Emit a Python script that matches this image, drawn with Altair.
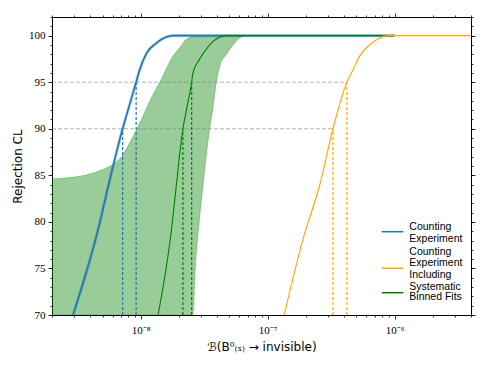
import altair as alt
import pandas as pd

# ---- data ----
series_labels = [["Counting", "Experiment"],
                 ["Counting", "Experiment", "Including", "Systematic"],
                 ["Binned Fits"]]
series_colors = ["#1f77b4", "#ffa500", "#008000"]

# Counting Experiment (blue)
blue_x = [2.93e-9, 4.6e-9, 5.7e-9, 7.2e-9, 7.94e-9, 9.2e-9, 9.8e-9, 1.11e-8, 1.33e-8, 1.59e-8, 1.85e-8, 1e-6]
blue_cl = [70, 79.1, 84.5, 90, 92, 95, 96.3, 98.1, 99.2, 99.85, 100, 100]

# Counting Experiment Including Systematic (orange)
orange_x = [1.35e-7, 1.86e-7, 2.60e-7, 3.27e-7, 4.21e-7, 4.70e-7, 5.30e-7, 6.35e-7, 7.62e-7, 8.85e-7, 4e-6]
orange_cl = [70, 77.7, 84.2, 90, 95, 96.3, 97.8, 99.0, 99.75, 100, 100]

# Binned Fits (green)
green_x = [1.37e-8, 1.745e-8, 1.89e-8, 2.15e-8, 2.29e-8, 2.52e-8, 2.58e-8, 2.83e-8, 3.19e-8, 3.60e-8, 4.06e-8, 4.73e-8, 1e-6]
green_cl = [70, 79.1, 83.4, 90, 92, 95, 96, 97.2, 98.3, 99.2, 99.75, 100, 100]

# Binned fits uncertainty band (upper and lower CL edge at each x)
band_x = [2e-9, 2.52e-9, 3.31e-9, 4.75e-9, 6.05e-9, 7.05e-9, 8.19e-9, 9.35e-9, 1.07e-8, 1.18e-8, 1.29e-8,
          1.41e-8, 1.55e-8, 1.69e-8, 1.85e-8, 2.03e-8, 2.29e-8, 2.58e-8, 2.69e-8, 2.89e-8, 3.13e-8,
          3.31e-8, 3.49e-8, 3.69e-8, 3.94e-8, 4.07e-8, 4.26e-8, 4.73e-8, 5.33e-8, 6.03e-8, 6.84e-8]
band_hi = [84.6, 84.7, 84.9, 85.5, 86.2, 87.0, 88.5, 90.0, 91.7, 93.0, 94.0,
           95.0, 96.1, 97.2, 98.05, 98.7, 99.6, 99.9, 99.95, 100, 100,
           100, 100, 100, 100, 100, 100, 100, 100, 100, 100]
band_lo = [70, 70, 70, 70, 70, 70, 70, 70, 70, 70, 70,
           70, 70, 70, 70, 70, 70, 70, 75, 80, 84.5,
           87.5, 90, 92, 95, 96, 97, 98, 99, 99.75, 100]

# limits at 90 % and 95 % CL
limit_cl = [90, 95]
blue_limits = [7.2e-9, 9.2e-9]
green_limits = [2.15e-8, 2.52e-8]
orange_limits = [3.27e-7, 4.21e-7]

x_domain = [2e-9, 4e-6]
y_domain = [70, 102]
x_major = [1e-8, 1e-7, 1e-6]
x_minor = [m * 10.0 ** e for e in (-9, -8, -7, -6) for m in range(2, 10) if 2e-9 <= m * 10.0 ** e <= 4e-6]
y_major = [70, 75, 80, 85, 90, 95, 100]
y_minor = list(range(70, 103))

# ---- tables ----
blue_df = pd.DataFrame({"x": blue_x, "cl": blue_cl})
orange_df = pd.DataFrame({"x": orange_x, "cl": orange_cl})
green_df = pd.DataFrame({"x": green_x, "cl": green_cl})
band_df = pd.DataFrame({"x": band_x, "hi": band_hi, "lo": band_lo})

def lim_df(xs):
    return pd.DataFrame({"x": xs, "cl": limit_cl, "base": [y_domain[0]] * 2})

hline_df = pd.DataFrame({"x0": [x_domain[0]] * 2, "x1": orange_limits, "cl": limit_cl})
dummy = pd.DataFrame({"x": [x_domain[0]], "cl": [y_domain[0]]})

SERIF = "Liberation Serif"
SANS = "DejaVu Sans"
LEG_SANS = "Liberation Sans"

xs = alt.Scale(type="log", domain=x_domain, nice=False)
ys = alt.Scale(domain=y_domain, nice=False, zero=False)

def X(field="x", axis=None):
    return alt.X(f"{field}:Q", scale=xs, axis=axis)

def Y(field="cl", axis=None):
    return alt.Y(f"{field}:Q", scale=ys, axis=axis)

label_expr = ("round(log(datum.value)/LN10) == -8 ? '10⁻⁸' : "
              "round(log(datum.value)/LN10) == -7 ? '10⁻⁷' : "
              "round(log(datum.value)/LN10) == -6 ? '10⁻⁶' : ''")

band = alt.Chart(band_df).mark_area(
    color="#008000", fillOpacity=0.4, stroke="#008000", strokeOpacity=0.3, strokeWidth=1,
    clip=True, interpolate="monotone"
).encode(
    x=X("x", axis=alt.Axis(values=x_major, labelExpr=label_expr, tickSize=4, labelFont=SERIF,
                           labelFontSize=11, labelPadding=5, domain=False, grid=False,
                           title="ℬ(B⁰₍ₛ₎ → invisible)", titleFont=SANS, titleFontSize=12,
                           titleFontWeight="normal", titlePadding=6, orient="bottom")),
    y=Y("lo", axis=alt.Axis(values=y_major, format="d", tickSize=4, labelFont=SERIF,
                            labelFontSize=11, labelPadding=3, domain=False, grid=False,
                            title="Rejection CL", titleFont=SANS, titleFontSize=12,
                            titleFontWeight="normal", titlePadding=4, orient="left")),
    y2="hi:Q",
)

hlines = alt.Chart(hline_df).mark_rule(color="#808080", opacity=0.6, strokeDash=[4, 2], strokeWidth=1).encode(
    x=X("x0"), x2="x1:Q", y=Y("cl"))

def vlines(xs_, color):
    return alt.Chart(lim_df(xs_)).mark_rule(color=color, strokeDash=[3, 2], strokeWidth=1.2).encode(
        x=X("x"), y=Y("base"), y2="cl:Q")

def curve(df, color, width, opacity=1.0):
    return alt.Chart(df).mark_line(color=color, strokeWidth=width, opacity=opacity, clip=True,
                                   interpolate="monotone").encode(x=X(), y=Y())

blue_glow = curve(blue_df, series_colors[0], 3.2, 0.3)
blue_line = curve(blue_df, series_colors[0], 1.6)
green_line = curve(green_df, series_colors[2], 1.1)
orange_line = curve(orange_df, series_colors[1], 1.1)

def deco(x_axis=None, y_axis=None):
    return alt.Chart(dummy).mark_point(opacity=0).encode(x=X("x", x_axis), y=Y("cl", y_axis))

ax_common = dict(grid=False, domain=False, tickColor="black", tickWidth=0.8)
deco_layers = [
    deco(x_axis=alt.Axis(values=x_minor, tickSize=2, labels=False, title=None, orient="bottom", **ax_common)),
    deco(x_axis=alt.Axis(values=x_major, tickSize=4, labels=False, title=None, orient="top", **ax_common)),
    deco(x_axis=alt.Axis(values=x_minor, tickSize=2, labels=False, title=None, orient="top", **ax_common)),
    deco(y_axis=alt.Axis(values=y_minor, tickSize=2, labels=False, title=None, orient="left", **ax_common)),
    deco(y_axis=alt.Axis(values=y_major, tickSize=4, labels=False, title=None, orient="right", **ax_common)),
    deco(y_axis=alt.Axis(values=y_minor, tickSize=2, labels=False, title=None, orient="right", **ax_common)),
]

# ---- legend (lower right, no frame) ----
LEG_SYM_X = (329.7, 351.3)
LEG_TEXT_X = 357.3
LEG_SYM_Y = [214.7, 251.3, 275.7]
LEG_TEXT_Y = [205.2, 229.5, 275.2]
legend_layers = []
for lines, color, sy, ty in zip(series_labels, series_colors, LEG_SYM_Y, LEG_TEXT_Y):
    legend_layers.append(
        alt.Chart(dummy).mark_rule(color=color, strokeWidth=1.5).encode(
            x=alt.value(LEG_SYM_X[0]), x2=alt.value(LEG_SYM_X[1]), y=alt.value(sy)))
    legend_layers.append(
        alt.Chart(dummy).mark_text(align="left", baseline="top", font=LEG_SANS, fontSize=10.5,
                                   lineHeight=11.7, color="black", text=lines).encode(
            x=alt.value(LEG_TEXT_X), y=alt.value(ty)))

chart = alt.layer(
    band, hlines,
    vlines(blue_limits, series_colors[0]), vlines(green_limits, series_colors[2]),
    vlines(orange_limits, series_colors[1]),
    blue_glow, blue_line, green_line, orange_line,
    *deco_layers, *legend_layers,
).resolve_scale(x="independent", y="independent").properties(
    width=419, height=298,
    autosize=alt.AutoSizeParams(type="none"),
    padding={"left": 44, "top": 9, "right": 8, "bottom": 40},
).configure_view(stroke="black", strokeWidth=1).configure_axis(
    tickColor="black", labelColor="black", titleColor="black", tickWidth=0.8
)

chart.save("out.html", embed_options={"renderer": "svg", "actions": False})
